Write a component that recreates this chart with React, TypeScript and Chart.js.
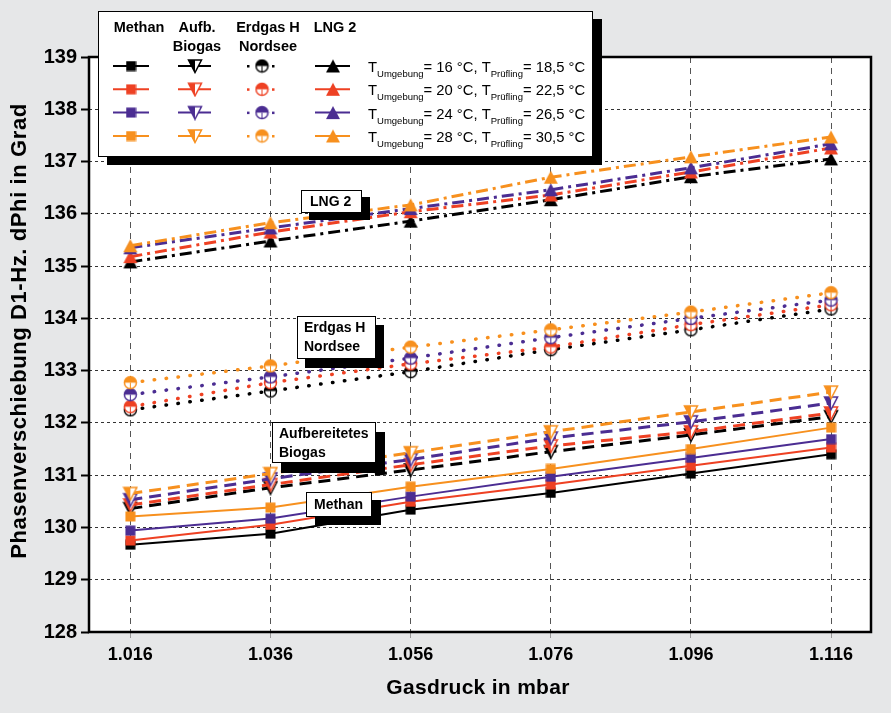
import React, { useEffect, useRef } from 'react';
import { Chart, registerables } from 'chart.js';
Chart.register(...registerables);

const W = 891;
const H = 713;
const FONT = '"Liberation Sans", Arial, Helvetica, sans-serif';

// ---- data ----
const pressure = [1.016, 1.036, 1.056, 1.076, 1.096, 1.116];
const yTicks = [128, 129, 130, 131, 132, 133, 134, 135, 136, 137, 138, 139];

const methan16 = [129.67, 129.88, 130.34, 130.66, 131.03, 131.40];
const methan20 = [129.75, 130.05, 130.49, 130.82, 131.18, 131.53];
const methan24 = [129.94, 130.17, 130.59, 130.97, 131.33, 131.69];
const methan28 = [130.21, 130.38, 130.78, 131.12, 131.50, 131.91];

const aufb16 = [130.36, 130.76, 131.10, 131.45, 131.77, 132.12];
const aufb20 = [130.43, 130.82, 131.20, 131.56, 131.83, 132.19];
const aufb24 = [130.53, 130.93, 131.30, 131.71, 132.02, 132.38];
const aufb28 = [130.65, 131.03, 131.43, 131.83, 132.21, 132.59];

const erdgas16 = [132.25, 132.61, 132.98, 133.40, 133.78, 134.18];
const erdgas20 = [132.31, 132.77, 133.13, 133.45, 133.88, 134.26];
const erdgas24 = [132.54, 132.88, 133.24, 133.63, 134.00, 134.35];
const erdgas28 = [132.77, 133.09, 133.45, 133.78, 134.12, 134.49];

const lng16 = [135.08, 135.48, 135.86, 136.27, 136.71, 137.05];
const lng20 = [135.18, 135.65, 136.04, 136.36, 136.80, 137.26];
const lng24 = [135.35, 135.73, 136.10, 136.46, 136.88, 137.34];
const lng28 = [135.39, 135.83, 136.17, 136.70, 137.09, 137.47];

const tUmgebung = ['16', '20', '24', '28'];
const tPruefling = ['18,5', '22,5', '26,5', '30,5'];
const gasHeaders = [['Methan'], ['Aufb.', 'Biogas'], ['Erdgas H', 'Nordsee'], ['LNG 2']];
const seriesColors = ['#000000', '#ee4123', '#4b2d92', '#f7901e'];

const xTitle = 'Gasdruck in mbar';
const yTitle = 'Phasenverschiebung D1-Hz. dPhi in Grad';

// ---- marker images ----
function mk(w: number, h: number, draw: (c: CanvasRenderingContext2D) => void) {
  const c = document.createElement('canvas');
  c.width = w;
  c.height = h;
  const ctx = c.getContext('2d')!;
  draw(ctx);
  return c;
}
const square = (col: string) =>
  mk(11, 11, (c) => {
    c.fillStyle = col;
    c.fillRect(0.5, 0.5, 10, 10);
  });
const triDown = (col: string) =>
  mk(16, 16, (c) => {
    c.beginPath();
    c.moveTo(1.5, 2);
    c.lineTo(14.5, 2);
    c.lineTo(8, 14.5);
    c.closePath();
    c.fillStyle = '#fff';
    c.fill();
    c.save();
    c.clip();
    c.fillStyle = col;
    c.fillRect(0, 0, 8, 16);
    c.restore();
    c.strokeStyle = col;
    c.lineWidth = 1.5;
    c.stroke();
  });
const circHalf = (col: string) =>
  mk(15, 15, (c) => {
    c.beginPath();
    c.arc(7.5, 7.5, 6, 0, Math.PI * 2);
    c.fillStyle = '#fff';
    c.fill();
    c.beginPath();
    c.arc(7.5, 7.5, 6, Math.PI, Math.PI * 2);
    c.closePath();
    c.fillStyle = col;
    c.fill();
    c.beginPath();
    c.arc(7.5, 7.5, 6, 0, Math.PI * 2);
    c.strokeStyle = col;
    c.lineWidth = 1.5;
    c.stroke();
    c.beginPath();
    c.moveTo(7.5, 7.5);
    c.lineTo(7.5, 13.5);
    c.lineWidth = 1;
    c.stroke();
  });
const triUp = (col: string) =>
  mk(16, 15, (c) => {
    c.beginPath();
    c.moveTo(8, 1);
    c.lineTo(15, 14);
    c.lineTo(1, 14);
    c.closePath();
    c.fillStyle = col;
    c.fill();
  });

export default function App() {
  const ref = useRef<HTMLCanvasElement>(null);
  useEffect(() => {
    const groups = [
      { vals: [methan16, methan20, methan24, methan28], marker: square, dash: [] as number[], width: 2, cap: 'butt' },
      { vals: [aufb16, aufb20, aufb24, aufb28], marker: triDown, dash: [12, 7], width: 3, cap: 'butt' },
      { vals: [erdgas16, erdgas20, erdgas24, erdgas28], marker: circHalf, dash: [0.5, 11.5], width: 3.5, cap: 'round' },
      { vals: [lng16, lng20, lng24, lng28], marker: triUp, dash: [12, 5, 3, 5], width: 3, cap: 'butt' },
    ];
    const markers = groups.map((g) => seriesColors.map((c) => g.marker(c)));
    const datasets: any[] = [];
    groups.forEach((g, gi) => {
      g.vals.forEach((arr, ci) => {
        datasets.push({
          label: gasHeaders[gi].join(' ') + ' ' + tUmgebung[ci],
          data: pressure.map((x, i) => ({ x, y: arr[i] })),
          borderColor: seriesColors[ci],
          backgroundColor: seriesColors[ci],
          borderWidth: g.width,
          borderDash: g.dash,
          borderCapStyle: g.cap,
          pointStyle: markers[gi][ci],
          pointRadius: 6,
          tension: 0,
          order: 4 - ci,
        });
      });
    });

    const deco = {
      id: 'deco',
      beforeDraw(chart: any) {
        const { ctx, chartArea: a } = chart;
        ctx.save();
        ctx.fillStyle = '#ffffff';
        ctx.fillRect(a.left, a.top, a.right - a.left, a.bottom - a.top);
        ctx.restore();
      },
      afterDraw(chart: any) {
        const { ctx, chartArea: a } = chart;
        ctx.save();
        // frame
        ctx.strokeStyle = '#000';
        ctx.lineWidth = 2.5;
        ctx.setLineDash([]);
        ctx.strokeRect(a.left, a.top, a.right - a.left, a.bottom - a.top);

        const box = (x: number, y: number, w: number, h: number, sx: number, sy: number) => {
          ctx.fillStyle = '#000';
          ctx.fillRect(x + sx, y + sy, w, h);
          ctx.fillStyle = '#fff';
          ctx.fillRect(x, y, w, h);
          ctx.strokeStyle = '#000';
          ctx.lineWidth = 1;
          ctx.strokeRect(x + 0.5, y + 0.5, w - 1, h - 1);
        };

        // annotation boxes
        ctx.textBaseline = 'middle';
        ctx.textAlign = 'left';
        ctx.font = `bold 14px ${FONT}`;
        box(301, 190, 61, 23, 8, 7);
        ctx.fillStyle = '#000';
        ctx.fillText('LNG 2', 310, 202);
        box(297, 316, 79, 43, 8, 9);
        ctx.fillStyle = '#000';
        ctx.fillText('Erdgas H', 304, 328);
        ctx.fillText('Nordsee', 304, 347);
        box(272, 422, 104, 41, 9, 10);
        ctx.fillStyle = '#000';
        ctx.fillText('Aufbereitetes', 279, 434);
        ctx.fillText('Biogas', 279, 453);
        box(306, 492, 66, 25, 9, 8);
        ctx.fillStyle = '#000';
        ctx.fillText('Methan', 314, 505);

        // legend
        box(98, 11, 495, 146, 9, 8);
        ctx.textAlign = 'center';
        ctx.fillStyle = '#000';
        ctx.font = `bold 14.5px ${FONT}`;
        const hx = [139, 197, 268, 335];
        gasHeaders.forEach((lines, i) => {
          lines.forEach((t, li) => ctx.fillText(t, hx[i], 28 + li * 19));
        });
        const rows = [66, 89.3, 112.6, 136];
        rows.forEach((ry, ci) => {
          const col = seriesColors[ci];
          ctx.strokeStyle = col;
          ctx.fillStyle = col;
          ctx.lineWidth = 2;
          ctx.setLineDash([]);
          ctx.beginPath();
          ctx.moveTo(113, ry);
          ctx.lineTo(149, ry);
          ctx.moveTo(178, ry);
          ctx.lineTo(211, ry);
          ctx.moveTo(315, ry);
          ctx.lineTo(350, ry);
          ctx.stroke();
          ctx.fillRect(247, ry - 1, 2.5, 2.5);
          ctx.fillRect(272, ry - 1, 2.5, 2.5);
          const ms = [131, 195, 262, 333];
          ms.forEach((mx, gi) => {
            const im = markers[gi][ci];
            ctx.drawImage(im, mx - im.width / 2, ry - im.height / 2);
          });
          // text
          ctx.fillStyle = '#000';
          ctx.textAlign = 'left';
          ctx.textBaseline = 'alphabetic';
          let x = 368;
          const base = ry + 6;
          const parts: [string, boolean][] = [
            ['T', false],
            ['Umgebung', true],
            [`= ${tUmgebung[ci]} °C, T`, false],
            ['Prüfling', true],
            [`= ${tPruefling[ci]} °C`, false],
          ];
          parts.forEach(([t, sub]) => {
            ctx.font = sub ? `9.5px ${FONT}` : `14.8px ${FONT}`;
            ctx.fillText(t, x, sub ? base + 5 : base);
            x += ctx.measureText(t).width;
          });
        });

        // axis titles
        ctx.fillStyle = '#000';
        ctx.textAlign = 'center';
        ctx.textBaseline = 'middle';
        (ctx as any).letterSpacing = '0.3px';
        ctx.font = `bold 21px ${FONT}`;
        ctx.fillText(xTitle, 478, 688);
        (ctx as any).letterSpacing = '0.6px';
        ctx.font = `bold 22px ${FONT}`;
        ctx.translate(20, 331);
        ctx.rotate(-Math.PI / 2);
        ctx.fillText(yTitle, 0, 0);
        (ctx as any).letterSpacing = '0px';
        ctx.restore();
      },
    };

    const chart = new Chart(ref.current!, {
      type: 'line',
      data: { datasets },
      plugins: [deco],
      options: {
        responsive: false,
        animation: false,
        layout: { padding: { top: 57, right: 20, left: 0, bottom: 0 } },
        plugins: { legend: { display: false }, tooltip: { enabled: false } },
        scales: {
          x: {
            type: 'linear',
            min: 1.0101,
            max: 1.1217,
            afterBuildTicks: (s: any) => {
              s.ticks = pressure.map((v) => ({ value: v }));
            },
            afterFit: (s: any) => {
              s.height = 81;
            },
            ticks: {
              callback: (v: any) => Number(v).toFixed(3),
              color: '#000',
              font: { family: FONT, size: 18, weight: 'bold' },
              padding: 6,
              maxRotation: 0,
              autoSkip: false,
            },
            grid: { color: '#555', lineWidth: 1, tickLength: 6, tickColor: '#999', tickWidth: 1 },
            border: { display: false, dash: [6, 5] },
          },
          y: {
            type: 'linear',
            min: 128,
            max: 139,
            afterBuildTicks: (s: any) => {
              s.ticks = yTicks.map((v) => ({ value: v }));
            },
            afterFit: (s: any) => {
              s.width = 89;
            },
            ticks: {
              color: '#000',
              font: { family: FONT, size: 20, weight: 'bold' },
              padding: 4,
              autoSkip: false,
            },
            grid: { color: '#333', lineWidth: 1, tickLength: 8, tickColor: '#000', tickWidth: 2, tickBorderDash: [] },
            border: { display: false, dash: [3, 3] },
          },
        },
      } as any,
    });
    return () => chart.destroy();
  }, []);

  return (
    <div style={{ position: 'absolute', left: 0, top: 0, width: W, height: H, background: '#e6e7e8' }}>
      <canvas ref={ref} width={W} height={H} style={{ display: 'block' }} />
    </div>
  );
}
